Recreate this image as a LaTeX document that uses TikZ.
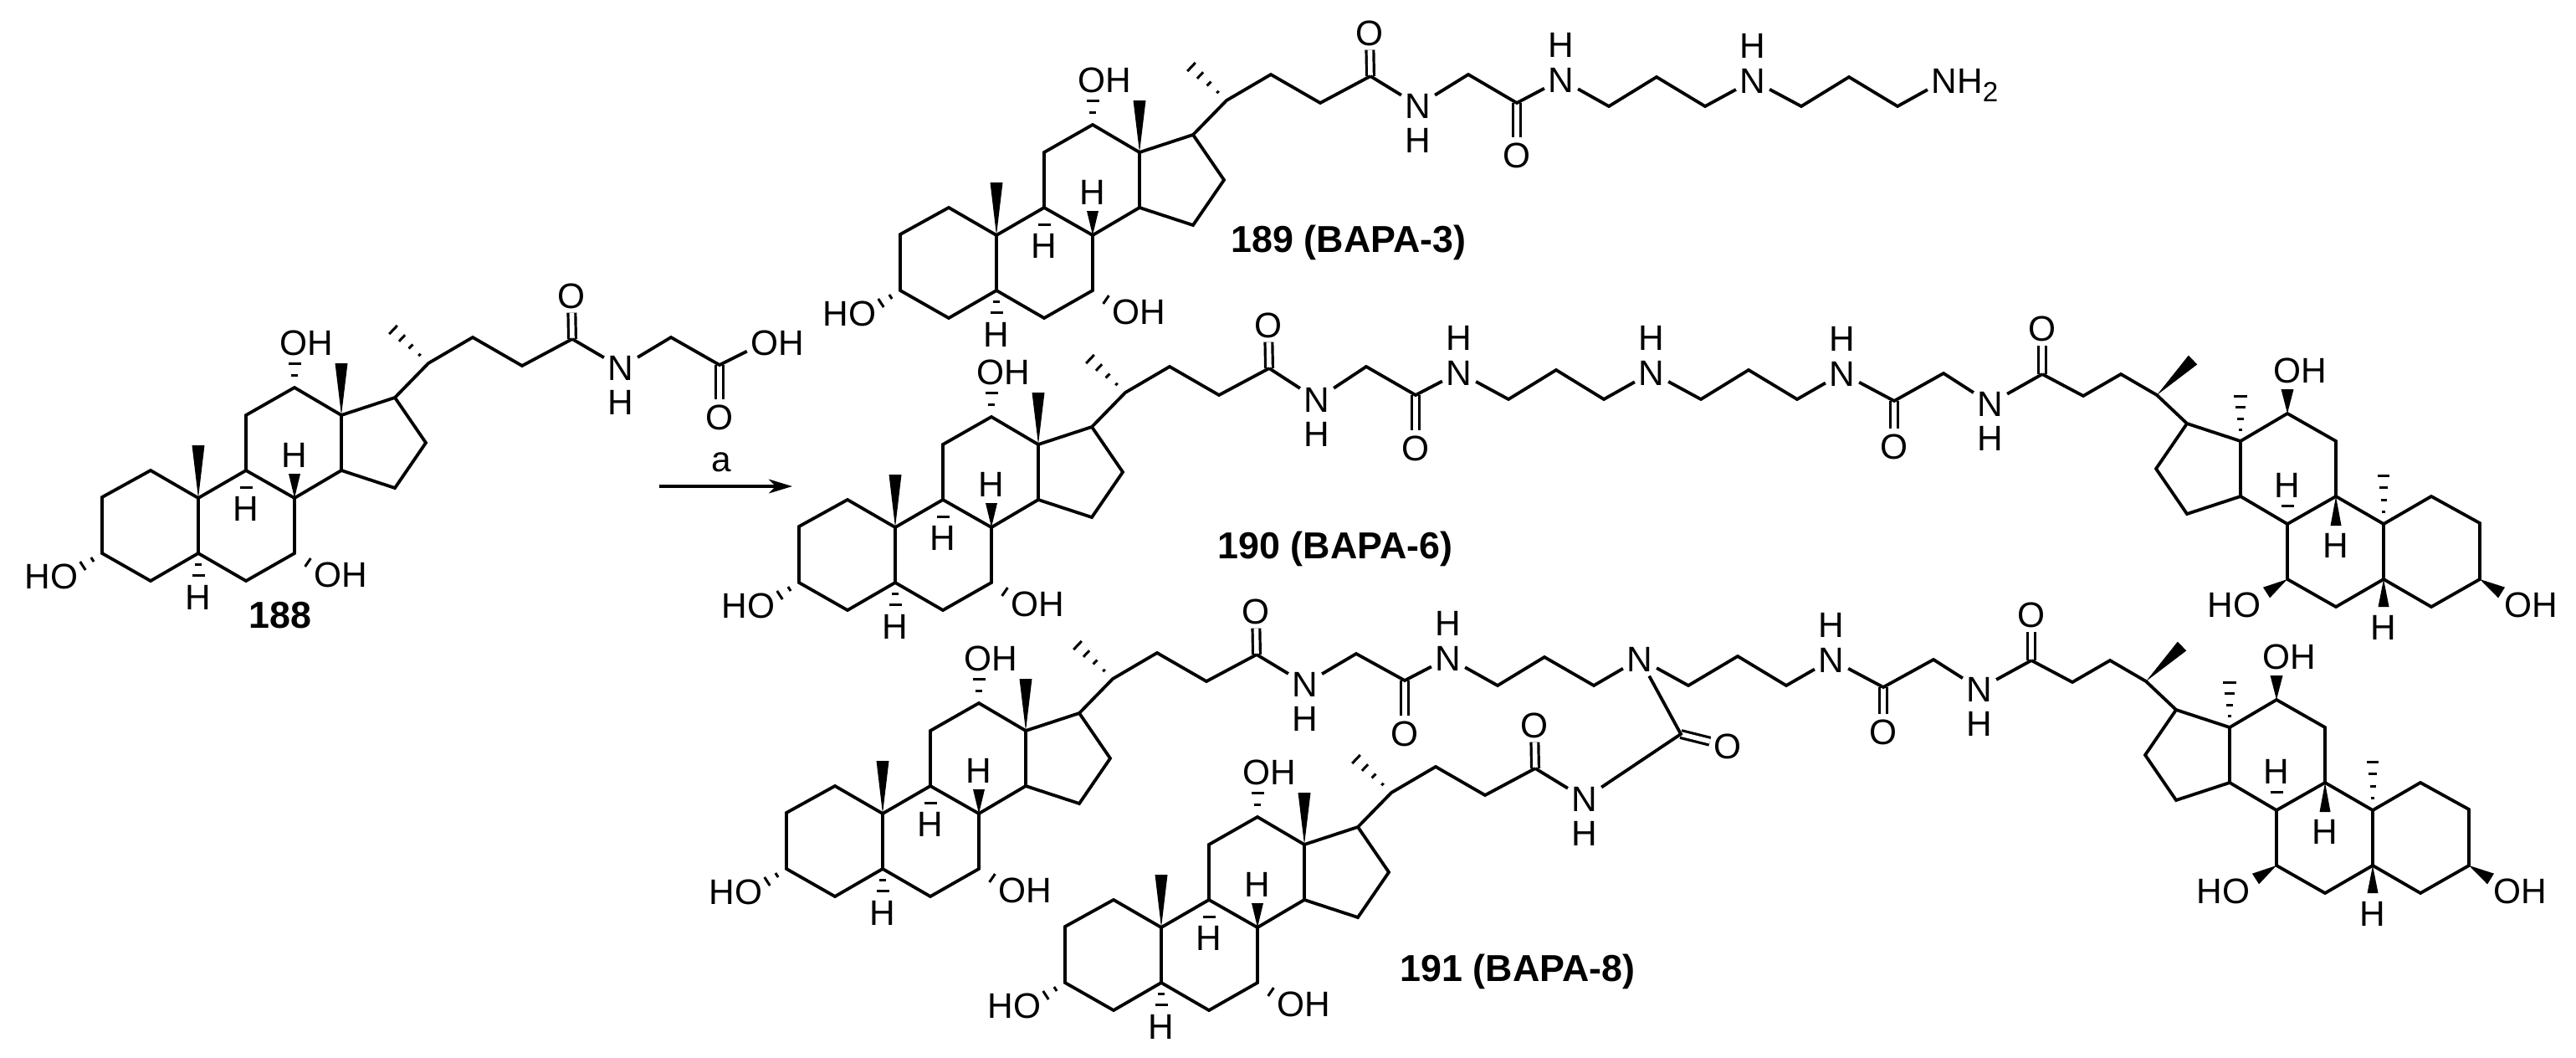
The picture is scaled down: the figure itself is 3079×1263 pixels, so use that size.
\documentclass[tikz,border=0pt]{standalone}
\usepackage{fontspec}
\setmainfont{Liberation Sans}
\usetikzlibrary{arrows.meta}
\usetikzlibrary{calc}
\usetikzlibrary{positioning}

\newcommand{\wedgebond}[3]{\fill ($(#2)!#3*0.25pt!90:(#1)$) -- ($(#2)!#3*0.25pt!-90:(#1)$) -- (#1) -- cycle;}
\newcommand{\hashbond}[4]{
    \foreach \i in {1,...,#3} {
        \pgfmathsetmacro{\t}{\i/#3}
        \pgfmathsetmacro{\hw}{\i/#3*#4*0.25}
        \draw[hashline] ($(#1)!\t!(#2)!\hw pt!90:(#1)$) -- ($(#1)!\t!(#2)!\hw pt!-90:(#1)$);
    }
}
\newcommand{\ringbonds}{
    \coordinate (-c10) at (0,0);
    \coordinate (-c1) at (-57,-33);
    \coordinate (-c2) at (-115,-1);
    \coordinate (-c3) at (-115,66);
    \coordinate (-c4) at (-57,99);
    \coordinate (-c5) at (0,66);
    \coordinate (-c6) at (57,99);
    \coordinate (-c7) at (115,66);
    \coordinate (-c8) at (115,0);
    \coordinate (-c9) at (57,-33);
    \coordinate (-c11) at (57,-99);
    \coordinate (-c12) at (115,-132);
    \coordinate (-c13) at (171,-99);
    \coordinate (-c14) at (171,-33);
    \coordinate (-c15) at (235,-12);
    \coordinate (-c16) at (272,-66);
    \coordinate (-c17) at (235,-120);
    \draw[bond] (-c10) -- (-c1) -- (-c2) -- (-c3) -- (-c4) -- (-c5) -- cycle;
    \draw[bond] (-c5) -- (-c6) -- (-c7) -- (-c8) -- (-c9) -- (-c10);
    \draw[bond] (-c9) -- (-c11) -- (-c12) -- (-c13) -- (-c14) -- (-c8);
    \draw[bond] (-c14) -- (-c15) -- (-c16) -- (-c17) -- (-c13);
}

\tikzset{
    bond/.style={line width=0.95pt},
    dblbond/.style={double, double distance=1.4pt, line width=0.8pt},
    hashline/.style={line width=0.75pt},
    atom/.style={font=\fontsize{10.6}{12}\selectfont, inner xsep=1pt, inner ysep=1.2pt, text height=7.5pt, text depth=0pt},
    cpdname/.style={font=\fontsize{11.2}{13}\selectfont\bfseries, inner sep=0pt},
    arrowline/.style={line width=0.85pt, -{Stealth[length=7pt, width=4.2pt, inset=2pt]}},
    alphaacid/.pic={
        \ringbonds
        \coordinate (-c20) at (275,-161);
        \coordinate (-me20) at (233,-201);
        \coordinate (-c22) at (328,-192);
        \coordinate (-c23) at (387,-158);
        \coordinate (-c24) at (447,-190);
        \coordinate (-me13) at (171,-161);
        \coordinate (-me10) at (0,-63);
        \coordinate (-w8) at (115,-29);
        \coordinate (-w9) at (57,-13);
        \coordinate (-w5) at (0,92);
        \coordinate (-w12) at (115,-161);
        \coordinate (-w3) at (-138,81);
        \coordinate (-w7) at (131,77);
        \node[atom] (-o24) at (446,-242) {O};
        \node[atom] (-o12) at (114,-186) {O\rlap{H}};
        \node[atom] (-o3) at (-160,93) {\llap{H}O};
        \node[atom] (-o7) at (155,91) {O\rlap{H}};
        \node[atom] (-h8) at (115,-52) {H};
        \node[atom] (-h9) at (57,12) {H};
        \node[atom] (-h5) at (0,118) {H};
        \draw[dblbond] (-c24) -- (-o24);
        \draw[bond] (-c17) -- (-c20) -- (-c22) -- (-c23) -- (-c24);
        \wedgebond{-c13}{-me13}{7.5}
        \wedgebond{-c10}{-me10}{7.5}
        \wedgebond{-c8}{-w8}{7}
        \hashbond{-c20}{-me20}{4}{7}
        \hashbond{-c9}{-w9}{1}{7.5}
        \hashbond{-c5}{-w5}{2}{7.5}
        \hashbond{-c12}{-w12}{2}{7.5}
        \hashbond{-c3}{-w3}{2}{6}
        \hashbond{-c7}{-w7}{1}{6}
    },
    betaacid/.pic={
        \ringbonds
        \coordinate (-c20) at (271,-154);
        \coordinate (-me20) at (228,-196);
        \coordinate (-c22) at (314,-179);
        \coordinate (-c23) at (359,-153);
        \coordinate (-c24) at (408,-179);
        \coordinate (-me13) at (171,-153);
        \coordinate (-me10) at (0,-58);
        \coordinate (-w8) at (115,-22);
        \coordinate (-w9) at (57,2);
        \coordinate (-w5) at (0,99);
        \coordinate (-w12) at (115,-161);
        \coordinate (-w3) at (-141,82);
        \coordinate (-w7) at (140,82);
        \node[atom] (-o24) at (408,-234) {O};
        \node[atom] (-o12) at (115,-184) {O\rlap{H}};
        \node[atom] (-o3) at (-161,96) {O\rlap{H}};
        \node[atom] (-o7) at (163,96) {\llap{H}O};
        \node[atom] (-h8) at (115,-47) {H};
        \node[atom] (-h9) at (57,25) {H};
        \node[atom] (-h5) at (0,123) {H};
        \draw[dblbond] (-c24) -- (-o24);
        \draw[bond] (-c17) -- (-c20) -- (-c22) -- (-c23) -- (-c24);
        \wedgebond{-c20}{-me20}{7.5}
        \wedgebond{-c12}{-w12}{7.5}
        \wedgebond{-c9}{-w9}{6.5}
        \wedgebond{-c5}{-w5}{6.5}
        \wedgebond{-c7}{-w7}{7.5}
        \wedgebond{-c3}{-w3}{7.5}
        \hashbond{-c13}{-me13}{4}{8}
        \hashbond{-c10}{-me10}{4}{7}
        \hashbond{-c8}{-w8}{1}{7.5}
    },
}

\begin{document}
\begin{tikzpicture}[x=0.25pt, y=-0.25pt, node distance=0pt]
    \useasboundingbox (0,0) rectangle (3079,1263);

    % 188
    \pic (s1) at (237,595) {alphaacid};
    \node[atom] (n1) at (742,439) {N};
    \node[atom, below=of n1] (n1h) {H};
    \coordinate (a1) at (802,403);
    \coordinate (a2) at (860,436);
    \node[atom] (a2oh) at (914,409) {O\rlap{H}};
    \node[atom] (a2o) at (860,498) {O};
    \draw[dblbond] (a2) -- (a2o);
    \draw[bond] (s1-c24) -- (n1) -- (a1) -- (a2) -- (a2oh);
    \node[cpdname] (n188) at (335,735) {188};

    % arrow
    \coordinate (arrowstart) at (788,581);
    \coordinate (arrowend) at (947,581);
    \draw[arrowline] (arrowstart) -- (arrowend);
    \node[font=\fontsize{10.6}{12}\selectfont, inner sep=0pt] (arrowlabel) at (862,552) {a};

    % 189
    \pic (s2) at (1191,281) {alphaacid};
    \node[atom] (b1) at (1695,126) {N};
    \node[atom, below=of b1] (b1h) {H};
    \coordinate (b2) at (1755,89);
    \coordinate (b3) at (1813,123);
    \node[atom] (b3o) at (1813,185) {O};
    \node[atom] (b4) at (1866,95) {N};
    \node[atom, above=of b4] (b4h) {H};
    \coordinate (b5) at (1923,127);
    \coordinate (b6) at (1980,92);
    \coordinate (b7) at (2038,127);
    \node[atom] (b8) at (2095,96) {N};
    \node[atom, above=of b8] (b8h) {H};
    \coordinate (b9) at (2153,127);
    \coordinate (b10) at (2210,92);
    \coordinate (b11) at (2268,127);
    \node[atom] (b12) at (2324,96) {N\rlap{H\raisebox{-2.6pt}{\fontsize{8.3}{9}\selectfont 2}}};
    \draw[dblbond] (b3) -- (b3o);
    \draw[bond] (s2-c24) -- (b1) -- (b2) -- (b3) -- (b4) -- (b5) -- (b6) -- (b7) -- (b8) -- (b9) -- (b10) -- (b11) -- (b12);
    \node[cpdname] (n189) at (1612,290) {189 (BAPA-3)};

    % 190
    \pic (s3) at (1070,630) {alphaacid};
    \pic[xscale=-1] (s4) at (2849,626) {betaacid};
    \node[atom] (c1) at (1574,477) {N};
    \node[atom, below=of c1] (c1h) {H};
    \coordinate (c2) at (1633,438);
    \coordinate (c3) at (1692,472);
    \node[atom] (c3o) at (1692,535) {O};
    \node[atom] (c4) at (1744,445) {N};
    \node[atom, above=of c4] (c4h) {H};
    \coordinate (c5) at (1803,477);
    \coordinate (c6) at (1860,442);
    \coordinate (c7) at (1917,477);
    \node[atom] (c8) at (1974,445) {N};
    \node[atom, above=of c8] (c8h) {H};
    \coordinate (c9) at (2033,477);
    \coordinate (c10) at (2090,442);
    \coordinate (c11) at (2148,477);
    \node[atom] (c12) at (2202,446) {N};
    \node[atom, above=of c12] (c12h) {H};
    \coordinate (c13) at (2264,479);
    \node[atom] (c13o) at (2264,533) {O};
    \coordinate (c14) at (2323,446);
    \node[atom] (c15) at (2379,482) {N};
    \node[atom, below=of c15] (c15h) {H};
    \draw[dblbond] (c3) -- (c3o);
    \draw[dblbond] (c13) -- (c13o);
    \draw[bond] (s3-c24) -- (c1) -- (c2) -- (c3) -- (c4) -- (c5) -- (c6) -- (c7) -- (c8) -- (c9) -- (c10) -- (c11) -- (c12) -- (c13) -- (c14) -- (c15) -- (s4-c24);
    \node[cpdname] (n190) at (1596,656) {190 (BAPA-6)};

    % 191
    \pic (s5) at (1055,972) {alphaacid};
    \pic (s6) at (1388,1108) {alphaacid};
    \pic[xscale=-1] (s7) at (2836,968) {betaacid};
    \node[atom] (d1) at (1560,817) {N};
    \node[atom, below=of d1] (d1h) {H};
    \coordinate (d2) at (1621,781);
    \coordinate (d3) at (1679,813);
    \node[atom] (d3o) at (1679,876) {O};
    \node[atom] (d4) at (1731,786) {N};
    \node[atom, above=of d4] (d4h) {H};
    \coordinate (d5) at (1790,819);
    \coordinate (d6) at (1846,785);
    \coordinate (d7) at (1905,819);
    \node[atom] (d8) at (1960,787) {N};
    \coordinate (d9) at (2018,819);
    \coordinate (d10) at (2077,784);
    \coordinate (d11) at (2135,819);
    \node[atom] (d12) at (2189,788) {N};
    \node[atom, above=of d12] (d12h) {H};
    \coordinate (d13) at (2251,821);
    \node[atom] (d13o) at (2251,874) {O};
    \coordinate (d14) at (2311,788);
    \node[atom] (d15) at (2366,823) {N};
    \node[atom, below=of d15] (d15h) {H};
    \coordinate (e1) at (2009,877);
    \node[atom] (e1o) at (2065,891) {O};
    \node[atom] (e2) at (1894,954) {N};
    \node[atom, below=of e2] (e2h) {H};
    \draw[dblbond] (d3) -- (d3o);
    \draw[dblbond] (d13) -- (d13o);
    \draw[dblbond] (e1) -- (e1o);
    \draw[bond] (s5-c24) -- (d1) -- (d2) -- (d3) -- (d4) -- (d5) -- (d6) -- (d7) -- (d8) -- (d9) -- (d10) -- (d11) -- (d12) -- (d13) -- (d14) -- (d15) -- (s7-c24);
    \draw[bond] (d8) -- (e1) -- (e2) -- (s6-c24);
    \node[cpdname] (n191) at (1814,1161) {191 (BAPA-8)};
\end{tikzpicture}
\end{document}
